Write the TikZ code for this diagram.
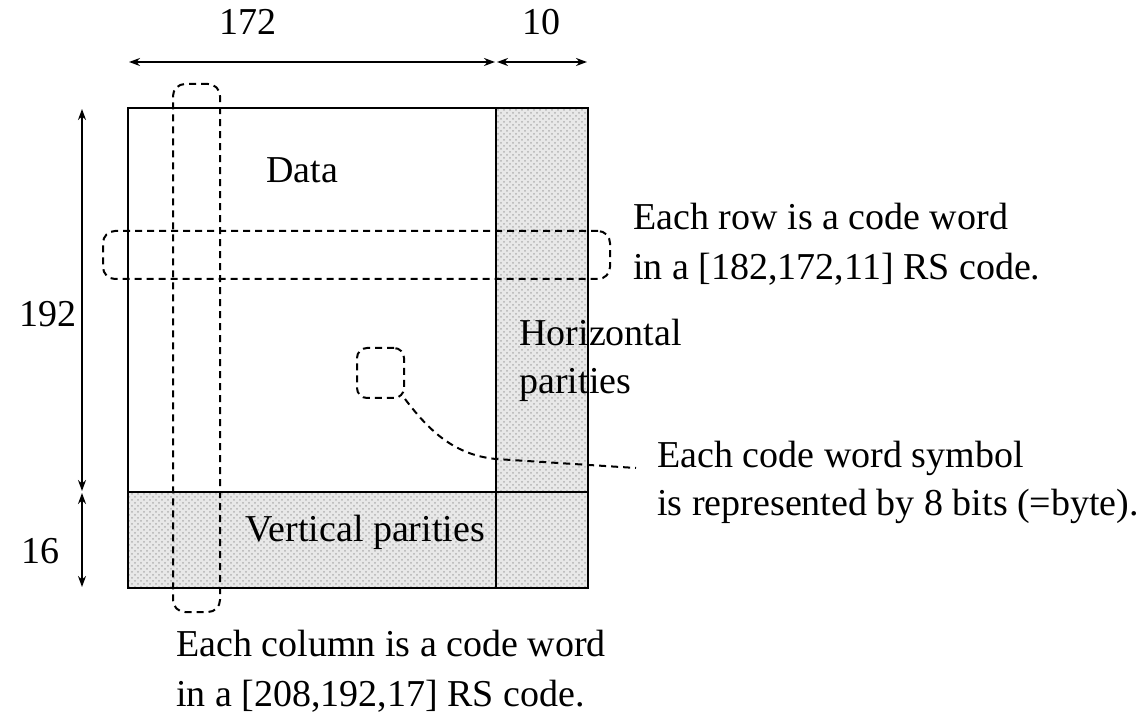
\documentclass[tikz,border=0pt]{standalone}
\usepackage{fontspec}
\setmainfont{Liberation Serif}
\usetikzlibrary{arrows.meta,patterns}
\begin{document}
\begin{tikzpicture}[x=0.5pt,y=-0.5pt,
  txt/.style={inner sep=0pt,anchor=base west,font=\fontsize{19pt}{25pt}\selectfont},
  lbl/.style={inner sep=0pt,anchor=base,font=\fontsize{19pt}{25pt}\selectfont},
  shadefill/.style={fill=gray!18},
  shadepat/.style={pattern=crosshatch dots,pattern color=gray!60},
  boxline/.style={line width=1pt},
  dashbox/.style={draw,dash pattern=on 3.5pt off 2.5pt,line width=1pt,rounded corners=6pt,inner sep=0pt,fill=none},
  dashline/.style={dash pattern=on 3.5pt off 2.5pt,line width=1pt},
  dimarrow/.style={line width=1pt,{Stealth[length=5.5pt,width=4pt]}-{Stealth[length=5.5pt,width=4pt]},shorten <=0.5pt,shorten >=0.5pt}]
\useasboundingbox (0,0) rectangle (1146,716);
% grid corners
\coordinate (TL) at (128,108);
\coordinate (TM) at (496,108);
\coordinate (TR) at (588,108);
\coordinate (ML) at (128,492);
\coordinate (MM) at (496,492);
\coordinate (MR) at (588,492);
\coordinate (BL) at (128,588);
\coordinate (BM) at (496,588);
\coordinate (BR) at (588,588);
% shaded parity areas
\fill[shadefill] (TM) rectangle (BR);
\fill[shadefill] (ML) rectangle (BM);
\fill[shadepat] (TM) rectangle (BR);
\fill[shadepat] (ML) rectangle (BM);
% outline
\draw[boxline] (TL) rectangle (BR);
\draw[boxline] (TM) -- (BM);
\draw[boxline] (ML) -- (MR);
% dashed rounded boxes
\node[dashbox,minimum width=23.5pt,minimum height=264pt] (col) at (196.5,348) {};
\node[dashbox,minimum width=253.5pt,minimum height=24pt] (row) at (356.5,255) {};
\node[dashbox,minimum width=23.5pt,minimum height=25pt,rounded corners=5pt] (sym) at (380.5,373) {};
% leader from symbol box
\coordinate (bend) at (496,459);
\coordinate (lead) at (636,468);
\draw[dashline] (sym.south east) .. controls (430,432) and (455,455) .. (bend) -- (lead);
% dimension arrows
\coordinate (dA) at (128,62);
\coordinate (dB) at (496,62);
\coordinate (dC) at (588,62);
\draw[dimarrow] (dA) -- (dB);
\draw[dimarrow] (dB) -- (dC);
\coordinate (lA) at (82,108);
\coordinate (lB) at (82,492);
\coordinate (lC) at (82,588);
\draw[dimarrow] (lA) -- (lB);
\draw[dimarrow] (lB) -- (lC);
% labels
\node[lbl] (n172) at (248,35) {172};
\node[lbl] (n10) at (541,35) {10};
\node[lbl] (n192) at (48,327) {192};
\node[lbl] (n16) at (40,563) {16};
\node[txt] (data) at (266,183) {Data};
\node[txt] (hor1) at (519,346) {Horizontal};
\node[txt] (hor2) at (519,394) {parities};
\node[txt] (vert) at (245,541) {Vertical parities};
\node[txt] (row1) at (633,230) {Each row is a code word};
\node[txt] (row2) at (633,280) {in a [182,172,11] RS code.};
\node[txt] (sym1) at (657,467) {Each code word symbol};
\node[txt] (sym2) at (657,516) {is represented by 8 bits (=byte).};
\node[txt] (col1) at (176,656) {Each column is a code word};
\node[txt] (col2) at (176,706) {in a [208,192,17] RS code.};
\end{tikzpicture}
\end{document}
